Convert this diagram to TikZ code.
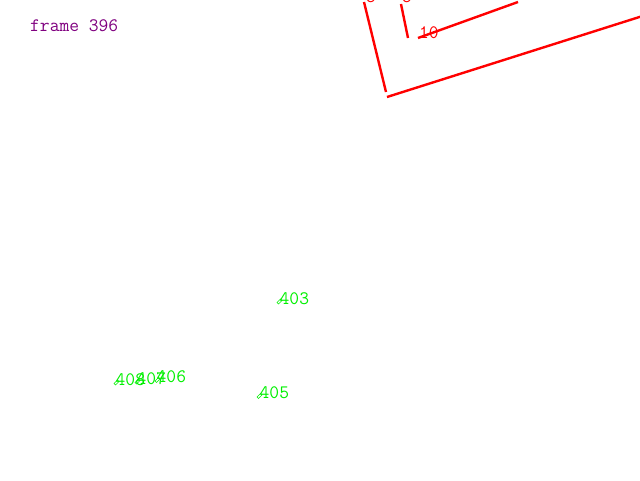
\documentclass[tikz,border=0pt]{standalone}
\usepackage{fontspec}
\setmonofont{Latin Modern Mono}
\definecolor{lblgreen}{RGB}{0,240,0}
\definecolor{framepurple}{RGB}{128,0,128}
\definecolor{lnred}{RGB}{255,0,0}
\tikzset{
  redline/.style={draw=lnred, line width=2.4pt},
  redlbl/.style={text=lnred, font=\ttfamily\fontsize{19}{19}\selectfont, inner sep=0pt},
  grnlbl/.style={text=lblgreen, font=\ttfamily\fontsize{19}{19}\selectfont, inner sep=0pt, anchor=base west},
  marker/.style={draw=lblgreen, line width=0.6pt, rectangle, minimum width=5pt, minimum height=2.2pt, inner sep=0pt, rotate=45},
}
\begin{document}
\begin{tikzpicture}[x=1pt, y=-1pt]
\useasboundingbox (0,0) rectangle (640,480);
\clip (0,0) rectangle (640,480);
\fill[white] (0,0) rectangle (640,480);

% title
\node[text=framepurple, font=\ttfamily\fontsize{19}{19}\selectfont, inner sep=0pt, anchor=base west] (title) at (30,31) {frame 396};

% red lines
\coordinate (a1) at (364,2);
\coordinate (a2) at (386,92);
\coordinate (b1) at (387,97);
\coordinate (b2) at (641,16.5);
\coordinate (c1) at (401,4);
\coordinate (c2) at (408,38);
\coordinate (d1) at (418,38);
\coordinate (d2) at (518,2);
\draw[redline] (a1) -- (a2);
\draw[redline] (b1) -- (b2);
\draw[redline] (c1) -- (c2);
\draw[redline] (d1) -- (d2);
\node[redlbl, anchor=base] (five1) at (371,2.5) {5};
\node[redlbl, anchor=base] (five2) at (407,2.5) {5};
\node[redlbl, anchor=base west] (ten) at (419,38.5) {10};

% green markers and labels
\node[marker] (m403) at (279.5,301.5) {};
\node[grnlbl] (t403) at (279.5,304) {403};
\node[marker] (m405) at (259.5,396) {};
\node[grnlbl] (t405) at (259.5,398.5) {405};
\node[marker] (m408) at (116.5,382.5) {};
\node[grnlbl] (t408) at (115.5,385) {408};
\node[marker] (m407) at (137.5,381.5) {};
\node[grnlbl] (t407) at (136.5,384) {407};
\node[marker] (m406) at (157.5,380) {};
\node[grnlbl] (t406) at (156.5,382.5) {406};
\end{tikzpicture}
\end{document}
